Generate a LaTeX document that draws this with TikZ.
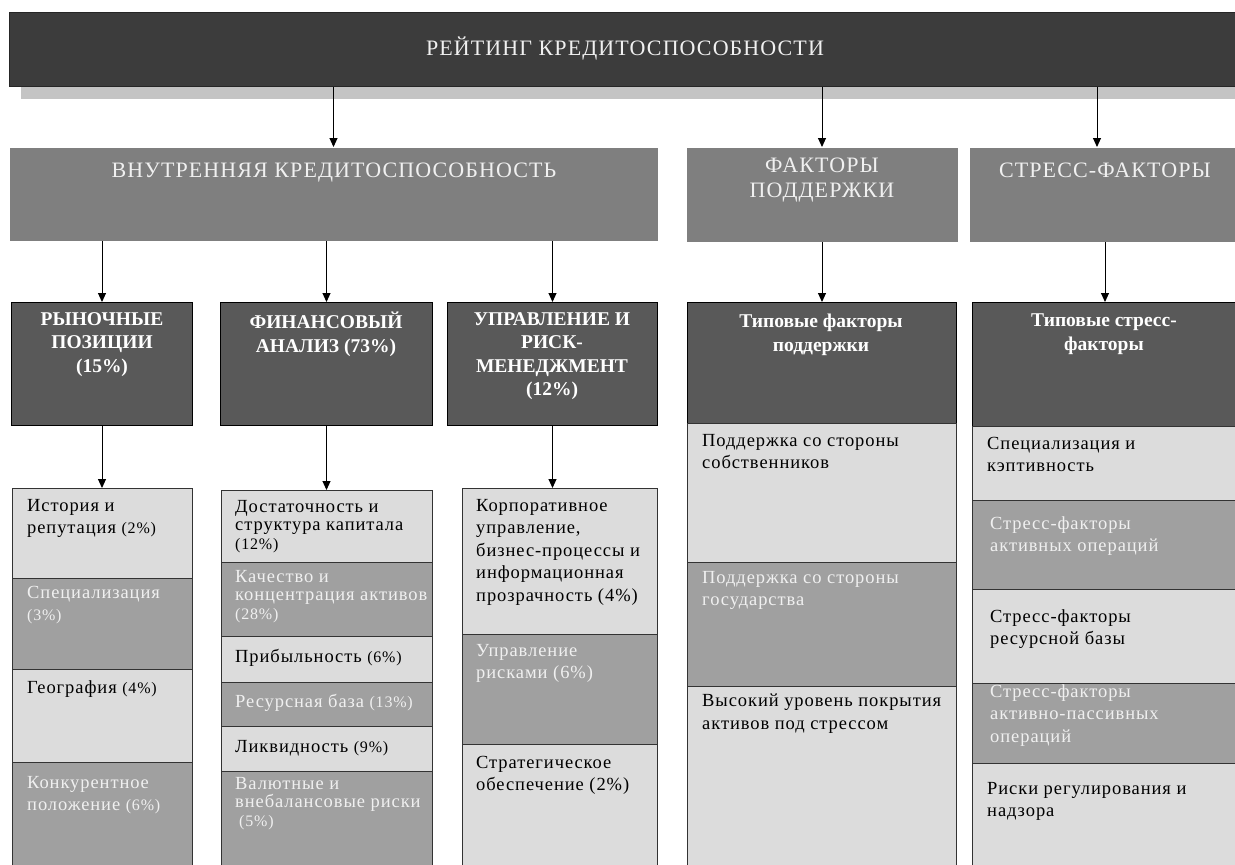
\documentclass[tikz,border=0pt]{standalone}
\usepackage{fontspec}
\setmainfont{Liberation Serif}
\newfontfamily\capsfont[LetterSpace=5]{Liberation Serif}
\newfontfamily\headfont{Liberation Serif}
\newfontfamily\bodyfont[LetterSpace=5]{Liberation Serif}
\usepackage{xcolor}
\usetikzlibrary{arrows.meta, shadows}
\definecolor{ratingfill}{HTML}{3C3C3C}
\definecolor{shadowfill}{HTML}{C4C4C4}
\definecolor{groupfill}{HTML}{7F7F7F}
\definecolor{headfill}{HTML}{595959}
\definecolor{litefill}{HTML}{DCDCDC}
\definecolor{darkfill}{HTML}{A0A0A0}
\definecolor{palefont}{HTML}{F0F0F0}
\newcommand\share[1]{{\fontsize{16}{16}\selectfont #1}}
\tikzset{Rating/.style = {% styles of the rating scheme
      cell/.style = {rectangle, anchor=north west, inner sep=0pt, line width=1pt},
 ratingbox/.style = {cell, fill=ratingfill, draw=black!85,
                     drop shadow={shadow xshift=11pt, shadow yshift=-12pt,
                                  fill=shadowfill, opacity=1}},
  groupbox/.style = {cell, fill=groupfill},
   headbox/.style = {cell, fill=headfill, draw=black},
   litebox/.style = {cell, fill=litefill, draw=black!80},
   darkbox/.style = {cell, fill=darkfill, draw=black!80},
 grouptext/.style = {anchor=north, inner sep=0pt, align=center, text=palefont,
                     font=\capsfont\fontsize{22}{25}\selectfont,
                     execute at begin node={\rule{0pt}{19pt}}},
  headtext/.style = {anchor=north, inner sep=0pt, align=center, text=white,
                     font=\headfont\bfseries\fontsize{19.5}{23.5}\selectfont,
                     execute at begin node={\rule{0pt}{18pt}}},
  litetext/.style = {anchor=north west, inner sep=0pt, align=left,
                     font=\bodyfont\fontsize{18.5}{22.5}\selectfont,
                     execute at begin node={\rule{0pt}{16pt}}},
  darktext/.style = {litetext, text=palefont},
     tight/.style = {font=\bodyfont\fontsize{18.5}{18.5}\selectfont},
     arrow/.style = {line width=1pt, -{Triangle[width=8pt,length=9pt]}}}
        }

\begin{document}
\begin{tikzpicture}[Rating, x=1pt, y=-1pt]
\useasboundingbox (0,0) rectangle (1235,865);

% top and second level
\node (rating)  [ratingbox, minimum width=1231, minimum height=74] at (9,12) {};
\node (inner)   [groupbox, minimum width=648, minimum height=93] at (9,147) {};
\node (support) [groupbox, minimum width=271, minimum height=94] at (686,147) {};
\node (stress)  [groupbox, minimum width=271, minimum height=94] at (969,147) {};
\node (ratingt)  [grouptext] at (625,36) {РЕЙТИНГ КРЕДИТОСПОСОБНОСТИ};
\node (innert)   [grouptext] at (334,158) {ВНУТРЕННЯЯ КРЕДИТОСПОСОБНОСТЬ};
\node (supportt) [grouptext] at (822,158) {ФАКТОРЫ\\ПОДДЕРЖКИ};
\node (stresst)  [grouptext] at (1105,158) {СТРЕСС-ФАКТОРЫ};

% third level
\node (mkt)      [headbox, minimum width=181, minimum height=123] at (11,302) {};
\node (fin)      [headbox, minimum width=212, minimum height=123] at (220,302) {};
\node (mgmt)     [headbox, minimum width=210, minimum height=123] at (447,302) {};
\node (supphead) [headbox, minimum width=269, minimum height=121] at (687,302) {};
\node (strhead)  [headbox, minimum width=268, minimum height=124] at (972,302) {};
\node (mktt)      [headtext] at (102,312) {РЫНОЧНЫЕ\\ПОЗИЦИИ\\(15\%)};
\node (fint)      [headtext] at (326,312) {ФИНАНСОВЫЙ\\АНАЛИЗ (73\%)};
\node (mgmtt)     [headtext] at (552,312) {УПРАВЛЕНИЕ И\\РИСК-\\МЕНЕДЖМЕНТ\\(12\%)};
\node (suppheadt) [headtext] at (821,314) {Типовые факторы\\поддержки};
\node (strheadt)  [headtext] at (1104,314) {Типовые стресс-\\факторы};

% market positions
\node (hist) [litebox, minimum width=180, minimum height=90]  at (12,488) {};
\node (spec) [darkbox, minimum width=180, minimum height=91]  at (12,578) {};
\node (geo)  [litebox, minimum width=180, minimum height=93]  at (12,669) {};
\node (comp) [darkbox, minimum width=180, minimum height=110] at (12,762) {};
\node (histt) [litetext] at (27,499) {История и\\репутация \share{(2\%)}};
\node (spect) [darktext] at (27,586) {Специализация\\\share{(3\%)}};
\node (geot)  [litetext] at (27,677) {География \share{(4\%)}};
\node (compt) [darktext] at (27,776) {Конкурентное\\положение \share{(6\%)}};

% financial analysis
\node (capad) [litebox, minimum width=211, minimum height=72]  at (221,490) {};
\node (qual)  [darkbox, minimum width=211, minimum height=74]  at (221,562) {};
\node (prof)  [litebox, minimum width=211, minimum height=46]  at (221,636) {};
\node (res)   [darkbox, minimum width=211, minimum height=44]  at (221,682) {};
\node (liq)   [litebox, minimum width=211, minimum height=45]  at (221,726) {};
\node (fx)    [darkbox, minimum width=211, minimum height=101] at (221,771) {};
\node (capadt) [litetext, tight] at (235,500) {Достаточность и\\структура капитала\\\share{(12\%)}};
\node (qualt)  [darktext, tight] at (235,570) {Качество и\\концентрация активов\\\share{(28\%)}};
\node (proft)  [litetext] at (235,646) {Прибыльность \share{(6\%)}};
\node (rest)   [darktext] at (235,691) {Ресурсная база \share{(13\%)}};
\node (liqt)   [litetext] at (235,736) {Ликвидность \share{(9\%)}};
\node (fxt)    [darktext, tight] at (235,777) {Валютные и\\внебалансовые риски\\\hspace{4pt}\share{(5\%)}};

% management and risk management
\node (corp)  [litebox, minimum width=195, minimum height=146] at (462,488) {};
\node (riskm) [darkbox, minimum width=195, minimum height=110] at (462,634) {};
\node (strat) [litebox, minimum width=195, minimum height=128] at (462,744) {};
\node (corpt)  [litetext] at (476,499) {Корпоративное\\управление,\\бизнес-процессы и\\информационная\\прозрачность (4\%)};
\node (riskmt) [darktext] at (476,644) {Управление\\рисками (6\%)};
\node (stratt) [litetext] at (476,756) {Стратегическое\\обеспечение (2\%)};

% support factors
\node (own)   [litebox, minimum width=269, minimum height=139] at (687,423) {};
\node (gov)   [darkbox, minimum width=269, minimum height=124] at (687,562) {};
\node (cover) [litebox, minimum width=269, minimum height=186] at (687,686) {};
\node (ownt)   [litetext] at (702,434) {Поддержка со стороны\\собственников};
\node (govt)   [darktext] at (702,571) {Поддержка со стороны\\государства};
\node (covert) [litetext] at (702,694) {Высокий уровень покрытия\\активов под стрессом};

% stress factors
\node (capt) [litebox, minimum width=268, minimum height=74]  at (972,426) {};
\node (act)  [darkbox, minimum width=268, minimum height=89]  at (972,500) {};
\node (fund) [litebox, minimum width=268, minimum height=94]  at (972,589) {};
\node (alm)  [darkbox, minimum width=268, minimum height=80]  at (972,683) {};
\node (reg)  [litebox, minimum width=268, minimum height=110] at (972,763) {};
\node (captt) [litetext] at (987,437) {Специализация и\\кэптивность};
\node (actt)  [darktext] at (990,516) {Стресс-факторы\\активных операций};
\node (fundt) [litetext] at (990,609) {Стресс-факторы\\ресурсной базы};
\node (almt)  [darktext] at (990,684) {Стресс-факторы\\активно-пассивных\\операций};
\node (regt)  [litetext] at (987,782) {Риски регулирования и\\надзора};

% connectors
\draw [arrow] (rating.south -| inner.north) -- (inner.north);
\draw [arrow] (rating.south -| support.north) -- (support.north);
\draw [arrow] ([xshift=-8pt]rating.south -| stress.north) -- ([xshift=-8pt]stress.north);
\draw [arrow] (inner.south -| mkt.north) -- (mkt.north);
\draw [arrow] (inner.south -| fin.north) -- (fin.north);
\draw [arrow] (inner.south -| mgmt.north) -- (mgmt.north);
\draw [arrow] (support.south) -- (supphead.north);
\draw [arrow] (stress.south) -- (stress.south |- strhead.north);
\draw [arrow] (mkt.south) -- (mkt.south |- hist.north);
\draw [arrow] (fin.south) -- (fin.south |- capad.north);
\draw [arrow] (mgmt.south) -- (mgmt.south |- corp.north);
\end{tikzpicture}
\end{document}
